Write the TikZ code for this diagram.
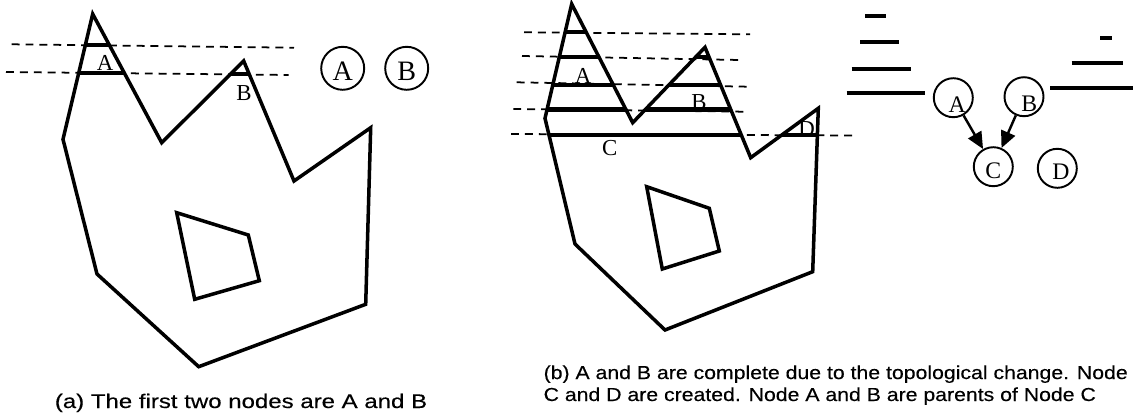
\documentclass[tikz,border=0pt]{standalone}
\usepackage{fontspec}
\setmainfont{Liberation Serif}
\newfontfamily\capfonta[FakeStretch=1.22,FakeBold=0.3]{Liberation Sans}
\newfontfamily\capfontb[FakeStretch=1.13,FakeBold=0.3]{Liberation Sans}
\usetikzlibrary{arrows.meta}
\begin{document}
\begin{tikzpicture}[x=0.02cm,y=-0.02cm,
  poly/.style={line width=2pt, line join=miter},
  cutline/.style={line width=1pt, dash pattern=on 4.5pt off 3.4pt},
  level/.style={line width=2.3pt},
  lbl/.style={font=\fontsize{13}{14}\selectfont, inner sep=0pt},
  bigcirc/.style={draw, circle, line width=1.1pt, minimum size=0.86cm, inner sep=0pt},
  smallcirc/.style={draw, circle, line width=1.1pt, minimum size=0.78cm, inner sep=0pt},
  bigtxt/.style={font=\fontsize{16}{17}\selectfont, inner sep=0pt},
  smalltxt/.style={font=\fontsize{13.5}{14}\selectfont, inner sep=0pt},
  arr/.style={line width=1.4pt, -{Triangle[length=9.5pt,width=8.5pt]}},
  captiona/.style={font=\capfonta\fontsize{11.2}{12}\selectfont, inner sep=0pt},
  captionb/.style={font=\capfontb\fontsize{10.7}{10}\selectfont, inner sep=0pt}
]
\useasboundingbox (0,0) rectangle (1133,419);

% ---------- (a) ----------
\draw[poly] (92.7,14) -- (161.7,142.7) -- (243.7,61) -- (294,181) -- (370.7,127.7)
  -- (365.7,304.3) -- (198.7,366.7) -- (97,274) -- (63,139.3) -- cycle;
\draw[poly] (176.7,212.7) -- (248.3,235) -- (259.3,280.7) -- (194.7,299.3) -- cycle;
\draw[cutline] (11.7,44.3) -- (294,47.7);
\draw[cutline] (6,72) -- (288.7,75);
\draw[level] (85.4,45) -- (109.3,45);
\draw[level] (78.7,73) -- (124.3,73);
\draw[level] (230.7,74) -- (249.1,74);
\node[lbl] (la) at (105,63) {A};
\node[lbl] (lb) at (244,93.5) {B};
\node[bigcirc, label={[bigtxt, yshift=-1.7pt]center:A}] (ca) at (342.7,68.3) {};
\node[bigcirc, label={[bigtxt, yshift=-1.7pt]center:B}] (cb) at (406.7,68.3) {};
\node[captiona, anchor=base] (capa) at (241,408) {(a) The first two nodes are A and B};

% ---------- (b) ----------
\draw[poly] (571.7,4) -- (632.7,122.7) -- (705,47.3) -- (750.7,157.7) -- (818.3,108.3)
  -- (812.7,271.7) -- (665,330) -- (575,244) -- (545,118.3) -- cycle;
\draw[poly] (646.7,186.7) -- (709.3,208.3) -- (719.3,251) -- (662.3,269) -- cycle;
\draw[cutline] (524,32.3) -- (750,34.3);
\draw[cutline] (522,56) -- (740,60);
\draw[cutline] (516.7,82.3) -- (748.3,86.7);
\draw[cutline] (513.3,109) -- (745,111.7);
\draw[cutline] (511,134) -- (855,135.5);
\draw[level] (565.2,32) -- (586.1,32);
\draw[level] (559.3,57) -- (598.9,57);
\draw[level] (695.7,57) -- (709,57);
\draw[level] (552.8,85) -- (613.3,85);
\draw[level] (668.9,85) -- (720.6,85);
\draw[level] (547.05,109.5) -- (625.9,109.5);
\draw[level] (645.4,109.5) -- (730.8,109.5);
\draw[level] (549,135) -- (741.3,135);
\draw[level] (781.8,135) -- (817.4,135);
\node[lbl] (lA) at (583,76) {A};
\node[lbl] (lB) at (699,102.5) {B};
\node[lbl] (lC) at (609.7,148.3) {C};
\node[lbl] (lD) at (806.7,129) {D};

% stacks
\draw[level] (865,16) -- (886,16);
\draw[level] (860,41.7) -- (899.3,41.7);
\draw[level] (851.7,69.3) -- (911,69.3);
\draw[level] (846.7,93.3) -- (925,93.3);
\draw[level] (1100,37.7) -- (1112.3,37.7);
\draw[level] (1071.7,62.7) -- (1123.3,62.7);
\draw[level] (1050,88.3) -- (1133,88.3);

% tree
\node[smallcirc, label={[smalltxt, xshift=2.2pt, yshift=-4pt]center:A}] (tA) at (953.3,97.7) {};
\node[smallcirc, label={[smalltxt, xshift=3pt, yshift=-4pt]center:B}] (tB) at (1024,96.7) {};
\node[smallcirc, label={[smalltxt, yshift=-2.5pt]center:C}] (tC) at (993.3,166.7) {};
\node[smallcirc, label={[smalltxt, xshift=2pt, yshift=-2pt]center:D}] (tD) at (1057.3,168.3) {};
\draw[arr] (tA) -- (tC);
\draw[arr] (tB) -- (tC);

\node[captionb, anchor=base west, align=left] (capb) at (543.3,401)
  {(b) A and B are complete due to the topological change. Node\\[2.5pt]C and D are created. Node A and B are parents of Node C};
\end{tikzpicture}
\end{document}
